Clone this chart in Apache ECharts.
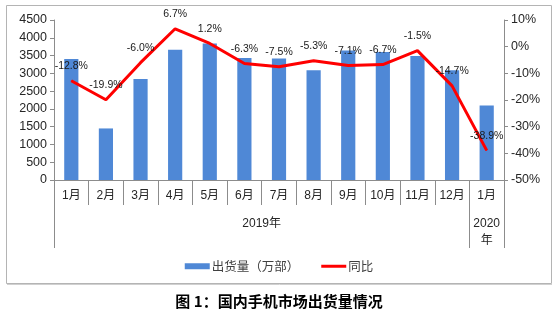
<!DOCTYPE html>
<html>
<head>
<meta charset="utf-8">
<script src="https://cdn.jsdelivr.net/npm/echarts@6/dist/echarts.min.js"></script>
<style>
  html, body { margin: 0; padding: 0; background: #fff; }
  #chart { width: 558px; height: 324px; }
</style>
</head>
<body>
<div id="chart"></div>
<script>
// Monthly domestic handset shipments (10k units) and year-on-year change (%)
var months = ['1月', '2月', '3月', '4月', '5月', '6月', '7月', '8月', '9月', '10月', '11月', '12月', '1月'];
var shipments = [3405, 1450, 2840, 3660, 3840, 3430, 3420, 3090, 3640, 3600, 3490, 3085, 2095];
var yoy = [-12.8, -19.9, -6.0, 6.7, 1.2, -6.3, -7.5, -5.3, -7.1, -6.7, -1.5, -14.7, -38.9];
// Year groups: label position (in category units) and group boundaries
var yearLabels = ['2019年', '2020\n年'];
var yearLabelPos = [6, 12.5];
var yearBounds = [0, 12, 13];

var latin = 'Liberation Sans, Arial, Noto Sans CJK SC, sans-serif';
var cjk = 'Noto Sans CJK SC, sans-serif';
var axisGray = '#8c8c8c';

var chart = echarts.init(document.getElementById('chart'));
chart.setOption({
  animation: false,
  backgroundColor: '#fff',
  title: {
    text: '图 1：国内手机市场出货量情况',
    left: 'center',
    top: 289,
    textStyle: { fontFamily: cjk, fontSize: 15, fontWeight: 'bold', color: '#000' }
  },
  graphic: [{
    type: 'rect',
    shape: { x: 6.5, y: 5.5, width: 545, height: 278 },
    style: { fill: 'none', stroke: '#b4b4b4', lineWidth: 1 },
    z: -1
  }, {
    type: 'line',
    shape: { x1: 7, y1: 284.5, x2: 552, y2: 284.5 },
    style: { stroke: '#d0d0d0', lineWidth: 1 },
    z: -1
  }],
  legend: {
    top: 255,
    left: 'center',
    itemGap: 22,
    itemWidth: 25,
    itemHeight: 6,
    textStyle: { fontFamily: cjk, fontSize: 12.5, color: '#404040', padding: [0, 0, 0, -3] },
    data: [
      { name: '出货量（万部）', icon: 'rect' },
      { name: '同比', icon: 'path://M0 0H25V3H0Z' }
    ]
  },
  grid: { left: 54, right: 54, top: 20, bottom: 144 },
  xAxis: [{
    type: 'category',
    data: months,
    boundaryGap: true,
    axisLine: { onZero: false, lineStyle: { color: axisGray } },
    axisTick: { show: true, length: 25, interval: 0, lineStyle: { color: axisGray } },
    axisLabel: { interval: 0, margin: 10, fontFamily: latin, fontSize: 12, color: '#262626' }
  }, {
    type: 'value',
    position: 'bottom',
    min: 0,
    max: 13,
    splitLine: { show: false },
    axisLine: { show: false, onZero: false },
    axisTick: { show: true, length: 68, customValues: yearBounds, lineStyle: { color: axisGray } },
    axisLabel: {
      customValues: yearLabelPos,
      margin: 35,
      fontFamily: latin,
      fontSize: 12,
      lineHeight: 17,
      color: '#262626',
      formatter: function (v) {
        var i = yearLabelPos.indexOf(v);
        return i >= 0 ? yearLabels[i] : '';
      }
    }
  }],
  yAxis: [{
    type: 'value',
    min: 0,
    max: 4500,
    interval: 500,
    splitLine: { show: false },
    axisLine: { show: true, onZero: false, lineStyle: { color: axisGray } },
    axisTick: { show: true, length: 4, lineStyle: { color: axisGray } },
    axisLabel: {
      margin: 7, fontFamily: latin, fontSize: 12.5, color: '#262626',
      formatter: function (v) { return String(v); }
    }
  }, {
    type: 'value',
    min: -50,
    max: 10,
    interval: 10,
    position: 'right',
    splitLine: { show: false },
    axisLine: { show: true, onZero: false, lineStyle: { color: axisGray } },
    axisTick: { show: true, length: 4, lineStyle: { color: axisGray } },
    axisLabel: {
      margin: 7, fontFamily: latin, fontSize: 12.5, color: '#262626',
      formatter: function (v) { return v + '%'; }
    }
  }],
  series: [{
    name: '出货量（万部）',
    type: 'bar',
    xAxisIndex: 0,
    yAxisIndex: 0,
    data: shipments,
    barWidth: '41%',
    itemStyle: { color: '#4f88d6' }
  }, {
    name: '同比',
    type: 'line',
    xAxisIndex: 0,
    yAxisIndex: 1,
    data: yoy,
    symbol: 'circle',
    symbolSize: 1,
    showSymbol: true,
    lineStyle: { color: '#ff0000', width: 3 },
    itemStyle: { color: '#ff0000' },
    label: {
      show: true,
      position: 'top',
      distance: 9,
      fontFamily: latin,
      fontSize: 10.5,
      color: '#1a1a1a',
      formatter: function (p) { return p.value.toFixed(1) + '%'; }
    },
    labelLayout: { hideOverlap: false },
    z: 3
  }]
});
</script>
</body>
</html>
